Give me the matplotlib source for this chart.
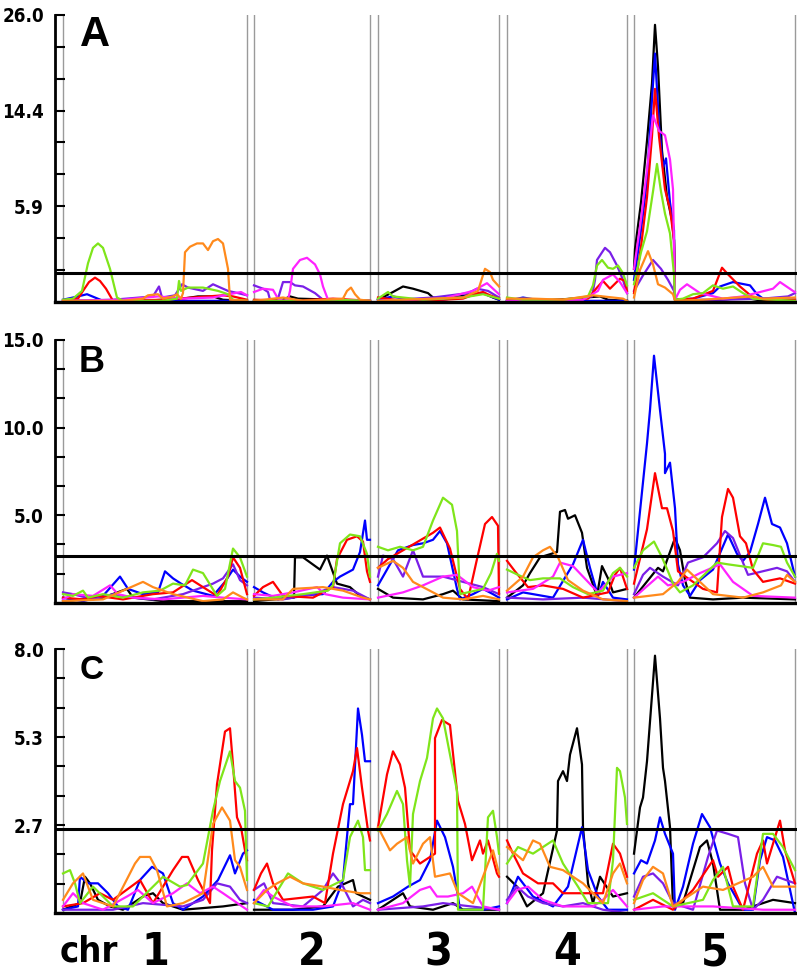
import numpy as np
import matplotlib
matplotlib.use("Agg")
import matplotlib.pyplot as plt
from matplotlib import transforms

# chromosome layout (genome-wide position, arbitrary cM-like units)
chr_names = ["1", "2", "3", "4", "5"]
chr_start = [0, 191, 315, 444, 571]
chr_end = [184, 307, 436, 564, 732]

# panel scales and thresholds
panels = ["A", "B", "C"]
y_max = [26.0, 15.0, 8.0]
y_labels = [["26.0", "14.4", "5.9"], ["15.0", "10.0", "5.0"], ["8.0", "5.3", "2.7"]]
thresholds = [2.6, 2.67, 2.56]

colors = {
    "black": "#000000",
    "blue": "#0000ff",
    "purple": "#7a1fe8",
    "red": "#ff0000",
    "magenta": "#ff22ff",
    "green": "#7fe51a",
    "orange": "#ff8a1c",
}

# ---------------- panel A ----------------
A_green = [(0,0.2),(10,0.3),(19,1.0),(25,3.5),(30,4.9),(35,5.3),(40,4.9),(47,3.0),(54,0.4),(60,0.1),(100,0.1),(114,0.3),(116,1.9),(118,1.0),(125,1.3),(140,1.3),(155,1.0),(165,0.7),(170,0.2),(184,0.1),
           (191,0.1),(250,0.1),(270,0.2),(307,0.1),
           (315,0.3),(325,0.9),(330,0.5),(360,0.2),(400,0.4),(420,0.7),(436,0.3),
           (444,0.4),(460,0.2),(500,0.2),(525,0.5),(530,1.5),(534,3.3),(539,3.8),(545,3.1),(550,3.0),(555,3.3),(560,2.6),(564,1.5),
           (571,1.6),(578,4.5),(584,6.4),(590,10.0),(594,12.5),(598,10.0),(602,8.0),(607,6.2),(611,2.5),(612,0.2),(620,0.3),(630,0.7),(640,0.8),(650,1.5),(660,1.2),(670,1.4),(680,0.8),(690,0.3),(732,0.1)]
A_orange = [(0,0.1),(60,0.1),(80,0.3),(85,0.6),(95,0.7),(100,0.3),(110,0.5),(114,0.7),(118,0.3),(120,0.8),(122,4.5),(127,5.0),(134,5.3),(140,5.3),(145,4.7),(150,5.5),(155,5.7),(160,5.3),(165,3.0),(167,0.2),(184,0.1),
            (191,0.1),(220,0.4),(240,0.1),(280,0.3),(284,1.0),(288,1.3),(292,0.7),(297,0.2),(307,0.1),
            (315,0.1),(340,0.2),(370,0.3),(400,0.4),(415,1.0),(422,3.0),(427,2.7),(430,2.0),(436,1.4),
            (444,0.3),(470,0.3),(500,0.2),(530,0.6),(560,0.3),(564,0.1),
            (571,0.4),(577,2.9),(585,4.6),(590,3.4),(595,1.6),(602,1.3),(610,0.7),(612,0.1),(640,0.2),(690,0.5),(700,0.3),(732,0.4)]
A_red = [(0,0.1),(15,0.3),(20,1.0),(26,1.8),(32,2.2),(37,1.9),(43,1.2),(50,0.1),(100,0.2),(130,0.4),(160,0.6),(170,0.5),(184,0.2),
         (191,0.2),(230,0.1),(270,0.3),(307,0.1),
         (315,0.4),(340,0.1),(380,0.2),(400,0.3),(415,0.8),(420,0.9),(427,0.6),(436,0.3),
         (444,0.1),(490,0.2),(525,0.3),(534,1.3),(540,1.9),(547,1.2),(557,2.1),(562,1.9),(564,1.0),
         (571,0.8),(578,5.0),(584,9.5),(589,15.0),(592,19.3),(596,15.0),(602,10.2),(607,8.4),(611,5.6),(612,0.2),(630,0.3),(650,1.0),(659,3.1),(665,2.5),(677,1.4),(690,0.4),(710,0.1),(732,0.2)]
A_blue = [(0,0.2),(15,0.5),(24,0.7),(32,0.4),(40,0.1),(100,0.1),(184,0.1),
          (191,0.1),(307,0.1),
          (315,0.2),(330,0.5),(345,0.2),(380,0.2),(410,0.6),(420,0.8),(436,0.2),
          (444,0.1),(460,0.4),(480,0.1),(564,0.1),
          (571,2.0),(578,6.5),(584,11.0),(588,17.0),(592,22.5),(596,16.0),(600,12.2),(603,13.0),(607,9.0),(611,6.5),(612,0.2),(630,0.3),(650,0.8),(657,1.4),(670,1.8),(687,1.5),(694,0.7),(700,0.3),(732,0.2)]
A_magenta = [(0,0.1),(60,0.2),(95,0.5),(120,0.3),(150,0.4),(172,0.8),(178,0.9),(184,0.6),
             (191,0.9),(200,1.2),(210,1.1),(215,0.3),(220,0.1),(225,0.2),(227,1.0),(230,3.0),(237,3.8),(244,4.0),(252,3.4),(257,2.5),(260,1.4),(265,0.2),(307,0.1),
             (315,0.1),(380,0.3),(410,1.0),(424,1.7),(430,1.2),(436,0.7),
             (444,0.1),(520,0.2),(535,1.0),(540,2.0),(550,2.5),(557,1.8),(564,0.8),
             (571,3.0),(578,7.5),(584,12.0),(590,16.9),(596,15.5),(602,15.1),(607,12.9),(610,10.2),(612,0.2),(617,1.1),(624,1.6),(637,0.8),(660,0.3),(680,0.5),(710,1.2),(717,1.8),(730,1.0),(732,0.9)]
A_purple = [(0,0.1),(50,0.2),(90,0.5),(96,1.4),(99,0.4),(112,0.6),(119,1.6),(125,1.3),(140,1.0),(150,1.6),(155,1.4),(165,1.0),(175,0.8),(184,0.6),
            (191,1.5),(200,1.2),(205,0.9),(207,0.2),(215,0.3),(220,1.8),(227,1.8),(232,1.5),(240,1.4),(252,0.8),(260,0.2),(307,0.1),
            (315,0.1),(370,0.4),(405,0.8),(414,1.2),(425,1.0),(436,0.4),
            (444,0.1),(510,0.2),(529,0.5),(532,2.0),(534,3.8),(542,4.9),(547,4.5),(554,3.3),(560,2.0),(564,0.8),
            (571,1.0),(580,2.4),(590,3.8),(598,3.0),(605,2.0),(611,1.0),(612,0.2),(660,0.2),(700,0.3),(725,0.5),(732,0.8)]
A_black = [(0,0.1),(80,0.1),(120,0.3),(135,0.5),(150,0.5),(160,0.2),(184,0.1),
           (191,0.1),(220,0.2),(227,0.5),(235,0.3),(307,0.1),
           (315,0.2),(330,0.9),(340,1.4),(350,1.2),(365,0.8),(370,0.4),(380,0.3),(420,0.8),(430,0.4),(436,0.2),
           (444,0.2),(480,0.1),(537,0.5),(545,0.2),(564,0.1),
           (571,3.0),(572,4.8),(578,9.0),(584,14.6),(589,19.8),(592,25.1),(595,21.3),(599,13.7),(604,9.5),(609,7.4),(611,5.6),(612,0.2),(640,0.1),(660,0.2),(680,0.4),(700,0.1),(732,0.1)]

# ---------------- panel B ----------------
B_green = [(0,0.5),(10,0.4),(20,0.7),(25,0.3),(40,0.5),(60,0.3),(80,0.6),(97,0.7),(110,1.1),(122,1.0),(130,1.9),(140,1.7),(154,0.4),(162,0.8),(170,3.1),(177,2.6),(184,1.5),
           (191,0.2),(210,0.3),(240,0.5),(265,0.7),(270,1.0),(277,3.4),(287,3.9),(297,3.8),(304,2.8),(307,1.5),
           (315,3.2),(325,3.0),(337,3.2),(350,3.0),(360,3.2),(370,4.7),(380,6.0),(389,5.6),(394,4.1),(397,0.5),(420,0.8),(428,1.7),(434,2.8),(436,2.4),
           (444,1.9),(455,1.6),(467,1.3),(480,1.4),(497,1.4),(510,0.9),(525,0.5),(540,0.7),(550,1.7),(557,2.0),(564,1.5),
           (571,2.0),(580,3.0),(591,3.5),(599,2.6),(605,1.8),(610,1.1),(617,0.6),(630,1.0),(654,2.3),(665,2.2),(690,2.0),(700,3.4),(710,3.3),(718,3.2),(724,2.3),(732,1.5)]
B_red = [(0,0.3),(20,0.2),(35,0.4),(60,0.2),(90,0.5),(110,0.6),(129,1.3),(140,0.9),(154,0.4),(165,1.5),(170,2.6),(177,2.0),(184,0.5),
         (191,0.4),(200,0.9),(210,1.2),(220,0.4),(250,0.3),(270,0.9),(274,2.5),(284,3.6),(294,3.8),(300,3.5),(304,1.8),(307,1.2),
         (315,2.0),(325,2.5),(340,3.0),(355,3.5),(370,4.0),(377,4.3),(387,3.1),(397,0.8),(405,0.2),(414,2.5),(422,4.5),(429,4.9),(435,4.4),(436,0.5),
         (444,2.4),(452,1.8),(465,0.9),(480,1.0),(500,0.8),(520,0.3),(545,0.6),(552,1.6),(557,2.0),(564,0.8),
         (571,1.1),(584,4.2),(592,7.4),(599,5.4),(604,5.4),(610,4.1),(615,1.8),(640,0.8),(654,0.6),(659,4.9),(665,6.5),(670,6.0),(677,3.8),(683,3.4),(690,1.9),(700,1.2),(717,1.4),(732,1.1)]
B_blue = [(0,0.3),(20,0.1),(40,0.4),(57,1.5),(65,0.8),(80,0.5),(95,0.6),(102,1.8),(110,1.4),(118,1.1),(130,0.7),(150,0.4),(162,1.2),(170,1.9),(177,1.5),(184,1.2),
          (191,0.9),(200,0.6),(215,0.2),(230,0.4),(260,0.5),(270,1.2),(277,1.5),(290,1.9),(297,2.9),(302,4.7),(304,3.6),(307,3.6),
          (315,1.0),(325,2.0),(335,3.0),(350,3.3),(360,3.4),(370,3.6),(377,4.1),(384,3.4),(394,0.8),(397,0.2),(410,0.5),(420,0.8),(430,0.5),(436,0.3),
          (444,0.2),(460,0.6),(490,0.3),(510,2.2),(520,3.6),(527,2.0),(535,0.4),(540,1.2),(550,0.3),(564,0.2),
          (571,1.9),(584,9.1),(587,11.0),(591,14.1),(597,11.0),(602,8.5),(602,7.4),(607,8.0),(612,5.4),(615,2.2),(620,1.0),(627,0.4),(637,1.3),(650,1.9),(665,3.9),(674,2.8),(680,2.4),(687,2.9),(695,4.5),(702,6.0),(709,4.5),(717,4.3),(724,3.4),(732,1.5)]
B_magenta = [(0,0.2),(10,0.5),(30,0.4),(47,1.0),(55,0.5),(70,0.3),(100,0.2),(140,0.4),(160,0.3),(184,0.2),
             (191,0.5),(210,0.4),(230,0.6),(254,0.9),(262,0.5),(280,0.3),(307,0.2),
             (315,0.3),(340,0.6),(360,1.0),(380,1.5),(394,1.6),(410,0.9),(425,0.7),(436,0.9),
             (444,0.6),(470,0.8),(490,1.5),(497,2.3),(510,2.1),(520,1.5),(535,0.6),(550,1.5),(564,1.7),
             (571,0.3),(595,1.5),(605,1.0),(620,1.2),(637,1.7),(657,2.2),(670,1.2),(690,0.4),(732,0.3)]
B_purple = [(0,0.6),(10,0.5),(30,0.2),(50,0.5),(70,0.3),(90,0.2),(120,0.5),(150,1.1),(160,1.4),(170,2.2),(177,1.3),(184,1.0),
            (191,0.3),(220,0.2),(250,0.5),(270,0.9),(290,0.7),(307,0.2),
            (315,1.5),(320,2.7),(330,2.5),(340,1.5),(350,3.0),(360,1.5),(380,1.5),(400,1.2),(420,0.9),(436,0.5),
            (444,0.3),(480,0.2),(520,0.3),(564,0.1),
            (571,0.5),(580,1.6),(587,2.0),(600,1.5),(615,1.0),(625,2.3),(640,2.6),(654,3.4),(662,4.1),(670,3.7),(685,1.6),(714,2.0),(724,1.8),(732,1.2)]
B_orange = [(0,0.1),(40,0.2),(80,1.2),(90,0.9),(110,0.5),(140,0.1),(160,0.2),(170,0.6),(180,0.3),(184,0.2),
            (191,0.2),(220,0.2),(230,0.8),(260,0.9),(280,0.7),(300,0.3),(307,0.2),
            (315,2.0),(330,2.4),(340,2.0),(350,1.2),(360,0.9),(380,0.3),(400,0.2),(420,0.4),(436,0.2),
            (444,0.7),(460,1.5),(470,2.6),(480,3.0),(487,3.2),(495,2.6),(505,1.3),(520,0.7),(540,0.2),(564,0.1),
            (571,0.3),(600,0.5),(615,1.2),(624,1.9),(637,1.2),(650,0.5),(680,0.3),(700,0.6),(718,1.0),(724,1.6),(732,1.2)]
B_black = [(0,0.1),(40,0.3),(64,0.8),(70,0.3),(100,0.1),(184,0.1),
           (191,0.1),(231,0.3),(232,2.6),(240,2.6),(257,1.9),(264,2.7),(274,1.1),(287,0.9),(297,0.4),(307,0.2),
           (315,0.8),(330,0.3),(360,0.2),(380,0.5),(390,0.7),(400,0.2),(436,0.1),
           (444,0.3),(460,1.0),(467,1.7),(477,2.6),(494,2.9),(497,5.2),(502,5.3),(505,4.8),(512,5.0),(519,4.0),(524,2.0),(534,0.4),(539,2.1),(545,1.4),(550,0.6),(564,0.8),
           (571,0.3),(595,2.0),(600,1.8),(612,3.7),(617,3.0),(622,1.3),(627,0.3),(650,0.2),(680,0.3),(732,0.2)]

# ---------------- panel C ----------------
C_green = [(0,1.2),(7,1.3),(12,0.9),(17,0.3),(30,0.8),(50,0.2),(70,0.2),(100,1.1),(117,0.8),(124,0.85),(140,1.5),(150,3.1),(157,4.0),(167,4.9),(172,4.0),(177,3.8),(182,3.1),(184,1.0),
           (191,0.3),(205,0.2),(225,1.2),(240,0.9),(260,0.7),(280,1.0),(287,2.3),(295,2.8),(300,2.3),(302,1.3),(307,1.3),
           (315,2.5),(324,3.0),(334,3.7),(340,3.3),(344,1.6),(347,0.8),(350,3.0),(357,4.0),(364,4.7),(370,5.9),(374,6.2),(380,5.9),(387,4.8),(394,3.7),(395,0.1),(420,0.1),(425,2.9),(430,3.1),(434,2.3),(436,1.8),
           (444,1.5),(455,2.0),(470,1.8),(490,2.2),(500,1.5),(515,0.8),(525,0.3),(545,0.3),(550,1.6),(554,4.4),(557,4.3),(562,3.5),(564,2.7),
           (571,0.4),(590,0.6),(610,0.2),(640,0.4),(650,1.0),(660,1.4),(670,0.2),(690,0.2),(700,2.4),(710,2.4),(720,2.0),(732,1.3)]
C_red = [(0,0.2),(20,0.3),(37,0.6),(50,0.4),(77,1.0),(90,0.3),(110,1.3),(119,1.7),(125,1.7),(135,1.0),(147,0.3),(149,1.9),(154,3.9),(162,5.5),(167,5.6),(170,4.5),(174,2.9),(178,2.6),(182,1.9),(184,1.6),
         (191,0.7),(198,1.2),(204,1.5),(210,0.9),(220,0.4),(250,0.5),(262,0.3),(270,1.8),(280,3.3),(290,4.3),(294,5.0),(299,3.8),(305,2.5),(307,2.2),
         (315,2.6),(324,4.2),(330,4.9),(337,4.5),(342,3.8),(347,1.9),(357,1.5),(367,1.7),(372,1.8),(372,5.3),(379,5.85),(387,5.7),(395,3.4),(402,2.7),(409,1.6),(417,2.2),(420,1.8),(425,2.2),(434,1.2),(436,1.1),
         (444,2.2),(450,1.8),(460,1.2),(475,0.9),(490,0.9),(500,0.6),(520,0.6),(540,0.6),(550,2.1),(557,1.8),(564,1.1),
         (571,0.1),(590,0.4),(610,0.1),(630,0.7),(650,1.6),(655,1.1),(665,1.4),(670,0.8),(680,0.1),(694,1.8),(700,2.2),(704,1.5),(717,2.8),(722,1.9),(732,0.9)]
C_orange = [(0,0.4),(10,0.9),(20,1.2),(30,0.4),(50,0.2),(72,1.5),(77,1.7),(87,1.7),(94,1.3),(104,0.2),(120,0.3),(140,0.6),(150,2.7),(159,3.2),(167,2.8),(172,1.6),(177,1.4),(184,0.7),
            (191,0.3),(204,0.7),(214,0.9),(227,1.1),(240,0.9),(260,0.8),(277,0.7),(297,0.6),(307,0.6),
            (315,2.6),(327,1.9),(334,2.1),(344,2.3),(350,1.5),(360,2.1),(367,2.3),(372,1.1),(387,1.2),(395,0.6),(410,0.3),(430,1.9),(436,1.2),
            (444,2.0),(460,1.6),(470,2.2),(477,2.1),(487,1.4),(500,1.3),(520,0.9),(540,0.3),(550,1.2),(557,1.5),(564,0.9),
            (571,0.3),(580,1.0),(590,1.4),(600,1.2),(610,0.2),(640,0.8),(660,0.7),(690,1.1),(700,1.4),(710,0.8),(732,0.8)]
C_blue = [(0,0.1),(15,0.2),(17,1.1),(25,0.9),(35,0.9),(45,0.6),(55,0.2),(65,0.1),(77,1.0),(89,1.4),(100,1.2),(110,0.3),(120,0.1),(140,0.5),(155,1.0),(167,1.75),(172,1.2),(180,1.8),(184,1.9),
          (191,0.4),(210,0.1),(250,0.1),(270,0.2),(280,1.0),(287,3.3),(290,3.3),(295,6.2),(299,5.4),(302,4.6),(307,4.6),
          (315,0.3),(330,0.5),(345,0.8),(357,1.0),(367,1.6),(374,2.8),(382,2.3),(390,1.4),(395,0.5),(397,0.1),(420,0.1),(436,0.2),
          (444,0.3),(455,1.1),(470,0.5),(490,0.2),(505,0.8),(519,2.6),(525,1.3),(535,0.5),(545,0.1),(564,0.1),
          (571,1.2),(578,1.6),(584,1.5),(592,2.2),(597,2.9),(602,2.4),(610,1.8),(612,0.1),(620,0.8),(630,2.1),(639,3.0),(647,2.6),(657,1.5),(665,0.9),(680,0.1),(690,0.1),(697,1.6),(704,2.3),(712,2.2),(720,1.7),(732,0.0)]
C_magenta = [(0,0.2),(10,0.6),(20,0.3),(40,0.1),(64,0.5),(75,0.7),(90,0.3),(110,0.6),(124,0.9),(137,0.6),(150,0.8),(160,0.6),(184,0.1),
             (191,0.3),(201,0.7),(210,0.5),(230,0.2),(260,0.2),(290,0.3),(307,0.1),
             (315,0.1),(340,0.3),(357,0.7),(367,0.8),(374,0.5),(385,0.5),(400,0.6),(409,0.8),(420,0.2),(436,0.1),
             (444,0.3),(454,0.7),(465,0.8),(480,0.4),(500,0.2),(530,0.2),(540,0.4),(550,0.7),(564,0.2),
             (571,0.1),(600,0.2),(650,0.2),(700,0.1),(732,0.1)]
C_purple = [(0,0.1),(50,0.1),(80,0.3),(120,0.2),(140,0.4),(154,0.9),(167,0.8),(177,0.4),(184,0.3),
            (191,0.7),(201,0.9),(210,0.3),(240,0.2),(260,0.7),(270,1.2),(280,0.8),(290,0.2),(300,0.4),(307,0.3),
            (315,0.1),(360,0.2),(380,0.3),(436,0.1),
            (444,0.4),(454,0.8),(465,0.5),(480,0.3),(500,0.2),(520,0.3),(540,0.1),(564,0.0),
            (571,0.5),(580,1.1),(590,1.2),(600,0.9),(610,0.3),(630,0.1),(645,1.7),(654,2.5),(665,2.4),(675,2.3),(682,0.9),(690,0.1),(700,0.4),(714,1.1),(732,0.9)]
C_black = [(0,0.1),(17,0.3),(22,1.1),(27,0.9),(35,0.4),(47,0.2),(60,0.1),(80,0.5),(90,0.6),(100,0.3),(120,0.1),(160,0.2),(184,0.3),
           (191,0.1),(230,0.1),(260,0.2),(275,0.8),(290,1.0),(293,0.6),(307,0.4),
           (315,0.1),(340,0.6),(347,0.2),(370,0.1),(390,0.3),(400,0.1),(436,0.1),
           (444,1.1),(454,0.8),(464,0.2),(480,0.6),(494,2.5),(495,4.0),(500,4.3),(504,4.0),(507,4.8),(514,5.6),(519,4.5),(520,2.6),(525,0.9),(530,0.3),(537,1.1),(550,0.5),(564,0.6),
           (571,1.8),(577,3.2),(580,3.5),(584,4.6),(592,7.8),(597,5.9),(600,4.4),(602,4.0),(607,2.6),(610,0.2),(620,0.3),(627,1.0),(637,2.0),(644,2.2),(650,1.5),(657,0.1),(680,0.1),(700,0.3),(710,0.4),(732,0.3)]

series = {
    "A": [("black", A_black), ("blue", A_blue), ("purple", A_purple), ("red", A_red),
          ("magenta", A_magenta), ("green", A_green), ("orange", A_orange)],
    "B": [("black", B_black), ("blue", B_blue), ("purple", B_purple), ("red", B_red),
          ("magenta", B_magenta), ("green", B_green), ("orange", B_orange)],
    "C": [("black", C_black), ("blue", C_blue), ("purple", C_purple), ("red", C_red),
          ("magenta", C_magenta), ("green", C_green), ("orange", C_orange)],
}

narrow = dict(family="DejaVu Sans", stretch="condensed", weight="bold")


def plot_profile(ax, pts, color):
    # one line per chromosome so the curves break at the gaps
    pts = np.array(pts, dtype=float)
    for s, e in zip(chr_start, chr_end):
        m = (pts[:, 0] >= s) & (pts[:, 0] <= e)
        if m.sum() > 1:
            ax.plot(pts[m, 0], pts[m, 1], color=color, lw=1.6, solid_joinstyle="round")


fig = plt.figure(figsize=(7.97, 9.74), dpi=100)
boxes = [[0.069, 0.690, 0.931, 0.2947],
         [0.069, 0.381, 0.931, 0.270],
         [0.069, 0.0626, 0.931, 0.271]]
letter_pos = [(0.054, 0.930), (0.050, 0.916), (0.050, 0.917)]
letter_size = [30, 26, 24]

for i, name in enumerate(panels):
    ax = fig.add_axes(boxes[i])
    ax.set_xlim(-8, 734)
    ax.set_ylim(0, y_max[i])

    for s, e in zip(chr_start, chr_end):
        ax.axvline(s, color="#9a9a9a", lw=1.0, zorder=1)
        ax.axvline(e, color="#9a9a9a", lw=1.0, zorder=1)

    for cname, pts in series[name]:
        plot_profile(ax, pts, colors[cname])

    ax.axhline(thresholds[i], color="black", lw=2.2, zorder=5)

    for side in ["top", "right"]:
        ax.spines[side].set_visible(False)
    ax.spines["left"].set_linewidth(2)
    ax.spines["bottom"].set_linewidth(2.4)

    step = y_max[i] / 9
    ticks = [step * k for k in range(10)]
    labels = [""] * 10
    labels[9] = y_labels[i][0]
    labels[6] = y_labels[i][1]
    labels[3] = y_labels[i][2]
    ax.set_yticks(ticks)
    ax.set_yticklabels(labels, fontsize=13.5, **narrow)
    ax.tick_params(axis="y", direction="in", length=7, width=1.5, pad=8)
    ax.set_xticks([])

    ax.text(letter_pos[i][0], letter_pos[i][1], name, transform=ax.transAxes,
            fontsize=letter_size[i], fontweight="bold", family="Liberation Sans",
            va="center", ha="center")

    if name == "C":
        trans = transforms.blended_transform_factory(ax.transData, ax.transAxes)
        for n, s, e in zip(chr_names, chr_start, chr_end):
            ax.text((s + e) / 2, -0.15, n, transform=trans, ha="center", va="center",
                    fontsize=32, **narrow)
        ax.text(0.046, -0.145, "chr", transform=ax.transAxes, ha="center", va="center",
                fontsize=26, **narrow)

fig.savefig("out.png", dpi=100)
